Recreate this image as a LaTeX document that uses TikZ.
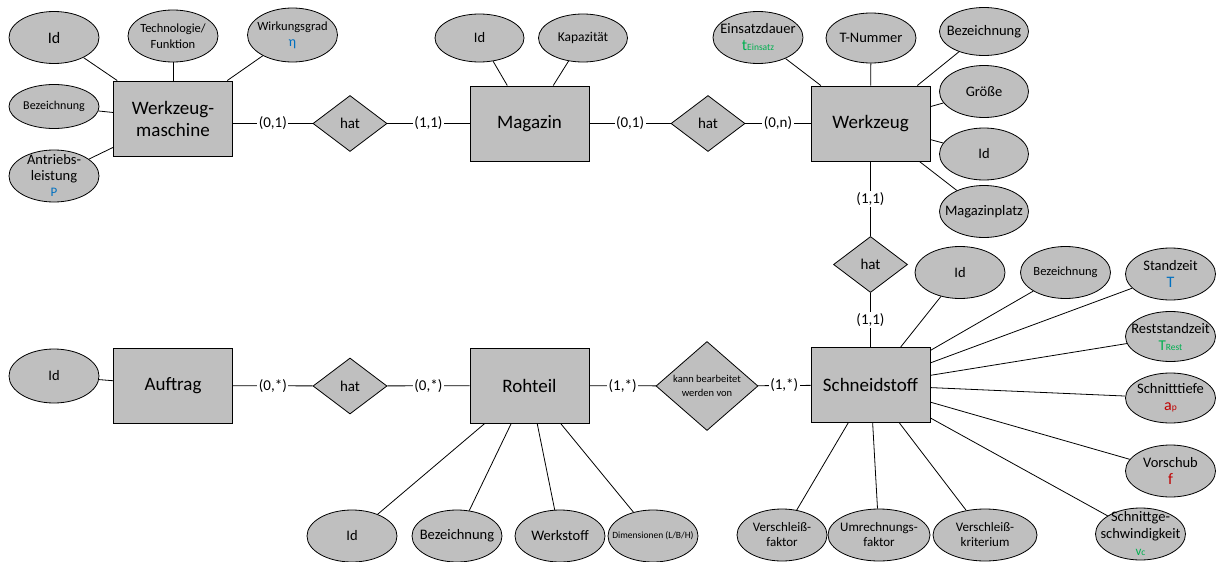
\documentclass[tikz,border=0pt]{standalone}
\usepackage{fontspec}
\setmainfont{Carlito}
\usetikzlibrary{shapes.geometric}
\definecolor{boxgray}{HTML}{BFBFBF}
\definecolor{symblue}{HTML}{0070C0}
\definecolor{symgreen}{HTML}{00B050}
\definecolor{symred}{HTML}{C00000}
\newcommand{\fsz}[2]{\fontsize{#1}{#2}\selectfont}
\newcommand{\symb}[4]{\textcolor{#1}{\fsz{#2}{#2}#3{\fsz{9.5}{10}#4}}}
\begin{document}
\begin{tikzpicture}[x=1pt,y=-1pt,
  entity/.style={draw=black, line width=0.9pt, fill=boxgray, minimum width=119pt,
    minimum height=75pt, inner sep=0pt, align=center, font=\fsz{19}{22}},
  rel/.style={diamond, draw=black, line width=0.8pt, fill=boxgray, minimum width=74pt,
    minimum height=56pt, inner sep=0pt, align=center, font=\fsz{15}{17}},
  attr/.style={ellipse, draw=black, line width=0.8pt, fill=boxgray, minimum width=90pt,
    minimum height=52pt, inner sep=0pt},
  atext/.style={align=center, inner sep=0pt, font=\fsz{14.5}{17}},
  card/.style={fill=white, inner sep=1.5pt, font=\fsz{15}{17}},
  link/.style={line width=0.8pt}]
\useasboundingbox (0,0) rectangle (1219,562);

% entities
\node[entity] (wm) at (173,118.5) {Werkzeug-\\maschine};
\node[entity] (mg) at (529.5,123.5) {Magazin};
\node[entity] (wz) at (870.5,123.5) {Werkzeug};
\node[entity] (au) at (173,385.5) {Auftrag};
\node[entity] (rt) at (529.5,385.5) {Rohteil};
\node[entity] (sf) at (870.5,385) {Schneidstoff};

% relationships
\node[rel] (r1) at (350,123.5) {hat};
\node[rel] (r2) at (708,123.5) {hat};
\node[rel] (r3) at (870.5,264.5) {hat};
\node[rel] (r4) at (350,386) {hat};
\node[rel, minimum width=102pt, minimum height=80pt, font=\fsz{10.5}{14}] (r5) at (707,386)
  {kann bearbeitet\\werden von};

% attributes of Werkzeugmaschine
\node[attr] (wm-id) at (54,37.5) {};
\node[atext, font=\fsz{16}{17}] (wm-id-t) at (wm-id) {Id};
\node[attr] (wm-tech) at (173,36) {};
\node[atext, font=\fsz{12.5}{16}] (wm-tech-t) at (wm-tech) {Technologie/\\Funktion};
\node[attr, minimum height=54pt] (wm-wirk) at (292.5,35) {};
\node[atext, font=\fsz{12.5}{16}] (wm-wirk-t) at (wm-wirk) {Wirkungsgrad\\\textcolor{symblue}{\fsz{14}{14}η}};
\node[attr, minimum height=44pt] (wm-bez) at (54,106.5) {};
\node[atext, font=\fsz{12}{14}] (wm-bez-t) at (wm-bez) {Bezeichnung};
\node[attr] (wm-antr) at (54,176) {};
\node[atext, font=\fsz{14.5}{16}] (wm-antr-t) at ([yshift=1pt]wm-antr) {Antriebs-\\leistung\\\textcolor{symblue}{\fsz{13}{13}P}};

% attributes of Magazin
\node[attr, minimum width=89pt, minimum height=48pt] (mg-id) at (479.5,38) {};
\node[atext] (mg-id-t) at (mg-id) {Id};
\node[attr, minimum width=89pt, minimum height=48pt] (mg-kap) at (583,38) {};
\node[atext, font=\fsz{13.5}{16}] (mg-kap-t) at (mg-kap) {Kapazität};

% attributes of Werkzeug
\node[attr] (wz-ein) at (758,37.5) {};
\node[atext] (wz-ein-t) at (wz-ein) {Einsatzdauer\\\symb{symgreen}{16}{t}{Einsatz}};
\node[attr, minimum height=50pt] (wz-tn) at (871,38) {};
\node[atext] (wz-tn-t) at (wz-tn) {T-Nummer};
\node[attr, minimum width=89pt, minimum height=48pt] (wz-bez) at (984,31.5) {};
\node[atext] (wz-bez-t) at (wz-bez) {Bezeichnung};
\node[attr, minimum width=89pt] (wz-gr) at (984,91.5) {};
\node[atext] (wz-gr-t) at (wz-gr) {Größe};
\node[attr, minimum width=89pt] (wz-id) at (984,154) {};
\node[atext] (wz-id-t) at (wz-id) {Id};
\node[attr, minimum width=89pt] (wz-mp) at (984,211.5) {};
\node[atext] (wz-mp-t) at (wz-mp) {Magazinplatz};

% attributes of Schneidstoff
\node[attr] (sf-id) at (960,272.5) {};
\node[atext] (sf-id-t) at (sf-id) {Id};
\node[attr] (sf-bez) at (1065.5,272.5) {};
\node[atext, font=\fsz{12.5}{14}] (sf-bez-t) at (sf-bez) {Bezeichnung};
\node[attr] (sf-st) at (1170.5,274) {};
\node[atext] (sf-st-t) at (sf-st) {Standzeit\\\textcolor{symblue}{\fsz{16}{16}T}};
\node[attr, minimum height=50pt] (sf-rs) at (1170.5,336.5) {};
\node[atext] (sf-rs-t) at (sf-rs) {Reststandzeit\\\symb{symgreen}{15}{T}{Rest}};
\node[attr, minimum height=50pt] (sf-tf) at (1170.5,398) {};
\node[atext] (sf-tf-t) at (sf-tf) {Schnitttiefe\\\symb{symred}{16}{a}{p}};
\node[attr] (sf-vs) at (1170.5,471) {};
\node[atext] (sf-vs-t) at (sf-vs) {Vorschub\\\textcolor{symred}{\fsz{16}{16}f}};
\node[attr] (sf-vc) at (1140.5,534) {};
\node[atext] (sf-vc-t) at ([yshift=1pt]sf-vc) {Schnittge-\\schwindigkeit\\\symb{symgreen}{13}{v}{c}};
\node[attr, minimum width=104pt] (sf-vk) at (985,535) {};
\node[atext, font=\fsz{13}{15}] (sf-vk-t) at (sf-vk) {Verschleiß-\\kriterium};
\node[attr, minimum width=102pt] (sf-uf) at (879,535) {};
\node[atext, font=\fsz{13}{15}] (sf-uf-t) at (sf-uf) {Umrechnungs-\\faktor};
\node[attr] (sf-vf) at (782,535) {};
\node[atext, font=\fsz{13}{15}] (sf-vf-t) at (sf-vf) {Verschleiß-\\faktor};

% attributes of Rohteil
\node[attr] (rt-id) at (352,536) {};
\node[atext] (rt-id-t) at (rt-id) {Id};
\node[attr] (rt-bez) at (457,536) {};
\node[atext] (rt-bez-t) at (rt-bez) {Bezeichnung};
\node[attr] (rt-ws) at (560,536) {};
\node[atext] (rt-ws-t) at (rt-ws) {Werkstoff};
\node[attr] (rt-dim) at (653,536) {};
\node[atext, font=\fsz{9.5}{11}] (rt-dim-t) at (rt-dim) {Dimensionen (L/B/H)};

% attribute of Auftrag
\node[attr, minimum height=54pt] (au-id) at (54,376) {};
\node[atext] (au-id-t) at (au-id) {Id};

% attribute links
\foreach \a/\e in {wm-id/wm, wm-tech/wm, wm-wirk/wm, wm-bez/wm, wm-antr/wm,
                   mg-id/mg, mg-kap/mg,
                   wz-ein/wz, wz-tn/wz, wz-bez/wz, wz-gr/wz, wz-id/wz, wz-mp/wz,
                   sf-id/sf, sf-bez/sf, sf-st/sf, sf-rs/sf, sf-tf/sf, sf-vs/sf, sf-vc/sf,
                   sf-vk/sf, sf-uf/sf, sf-vf/sf,
                   rt-id/rt, rt-bez/rt, rt-ws/rt, rt-dim/rt, au-id/au}
  \draw[link] (\a) -- (\e);

% relationship links with cardinalities
\draw[link] (r1 -| wm.east) -- node[card] {(0,1)} (r1);
\draw[link] (r1) -- node[card] {(1,1)} (mg);
\draw[link] (mg) -- node[card] {(0,1)} (r2);
\draw[link] (r2) -- node[card] {(0,n)} (wz);
\draw[link] (wz) -- node[card] {(1,1)} (r3);
\draw[link] (r3) -- node[card] {(1,1)} (sf);
\draw[link] (au) -- node[card] {(0,*)} (r4);
\draw[link] (r4) -- node[card] {(0,*)} (rt);
\draw[link] (rt) -- node[card] {(1,*)} (r5);
\draw[link] (r5) -- node[card] {(1,*)} (sf);
\end{tikzpicture}
\end{document}
